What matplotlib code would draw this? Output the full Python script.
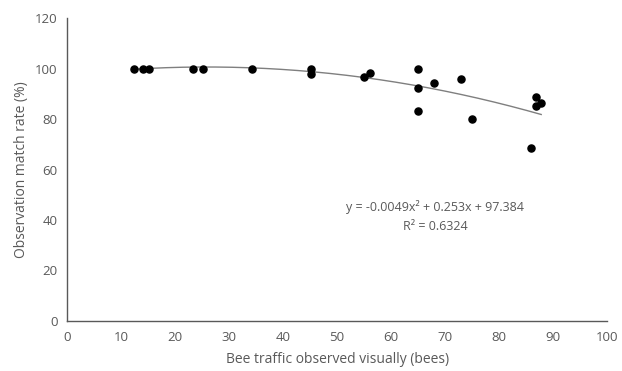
import numpy as np
import matplotlib.pyplot as plt

plt.rcParams['font.family'] = ['Open Sans', 'DejaVu Sans']

bees = [12.3, 14.1, 15.2, 23.3, 25.2, 34.2, 45.1, 45.1, 55.0, 56.0,
        65.0, 65.0, 65.0, 68.0, 72.9, 74.9, 85.9, 86.9, 86.9, 87.8]
match_rate = [100, 100, 100, 100, 100, 100, 100, 97.9, 96.5, 98.3,
              100, 92.5, 83.1, 94.2, 95.9, 80.0, 68.6, 88.6, 85.0, 86.3]
coef = [-0.0049, 0.253, 97.384]
eq_text = "y = -0.0049x² + 0.253x + 97.384\nR² = 0.6324"

grey = '#595959'

fig = plt.figure(figsize=(6.22, 3.71), dpi=100)
ax = fig.add_axes([0.108, 0.135, 0.868, 0.816])

xs = np.linspace(min(bees), max(bees), 200)
ax.plot(xs, np.polyval(coef, xs), color='#7f7f7f', lw=1.0, zorder=2)
ax.scatter(bees, match_rate, s=26, color='black', zorder=3)

ax.text(68.2, 41.5, eq_text, ha='center', va='center', fontsize=9,
        color=grey, linespacing=1.6)

ax.set_xlim(0, 100)
ax.set_ylim(0, 120)
ax.set_xticks(range(0, 101, 10))
ax.set_yticks(range(0, 121, 20))
for s in ['top', 'right']:
    ax.spines[s].set_visible(False)
for s in ['left', 'bottom']:
    ax.spines[s].set_color(grey)
    ax.spines[s].set_linewidth(1.0)
ax.tick_params(length=0, labelsize=9.5, colors=grey, pad=7)
ax.set_xlabel('Bee traffic observed visually (bees)', fontsize=10, color=grey, labelpad=6)
ax.set_ylabel('Observation match rate (%)', fontsize=10, color=grey, labelpad=4)

fig.savefig('out.png', dpi=100)
